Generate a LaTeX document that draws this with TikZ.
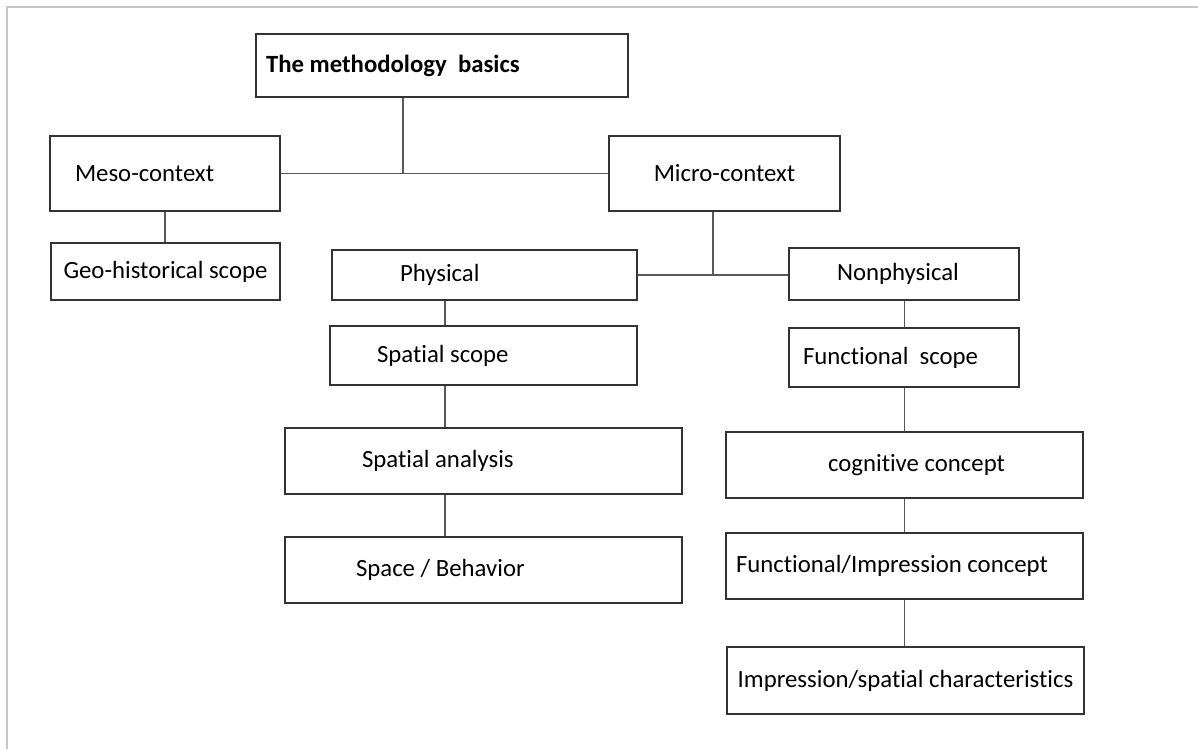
\documentclass[tikz,border=0pt]{standalone}
\usepackage{fontspec}
\setmainfont{Carlito}[Ligatures=NoCommon]
\usepackage{xcolor}
\usepackage{tikz}
\usetikzlibrary{calc}
\newcommand\boxfont{\fontsize{14.1pt}{16pt}\selectfont}

\begin{document}
\begin{tikzpicture}[font=\boxfont,
  box/.style={draw=black!80, line width=0.6pt, rectangle, inner ysep=0pt},
  link/.style={draw=black!65, line width=0.6pt}]
  \useasboundingbox (0,0) rectangle (23.96,-14.98);
  \draw[black!22, line width=1.2pt] (0.14,-14.98) -- (0.14,-0.14) -- (23.96,-0.14);
  \node[box, minimum width=7.44cm, minimum height=1.26cm, text width=7.04cm, inner xsep=0.2cm, align=flush left, font=\boxfont\bfseries] (basics) at (8.84,-1.31) {The methodology~ basics};
  \node[box, minimum width=4.60cm, minimum height=1.50cm, text width=3.60cm, inner xsep=0.5cm, align=flush left] (meso) at (3.30,-3.47) {Meso-context};
  \node[box, minimum width=4.62cm, minimum height=1.50cm, align=center] (micro) at (14.49,-3.47) {Micro-context};
  \node[box, minimum width=4.58cm, minimum height=1.14cm, align=center] (geo) at (3.31,-5.43) {Geo-historical scope};
  \node[box, minimum width=6.10cm, minimum height=1.00cm, text width=3.38cm, inner xsep=1.36cm, align=flush left] (phys) at (9.69,-5.50) {Physical};
  \node[box, minimum width=4.60cm, minimum height=1.04cm, text width=2.68cm, inner xsep=0.96cm, align=flush left] (nonphys) at (18.08,-5.48) {Nonphysical};
  \node[box, minimum width=6.14cm, minimum height=1.18cm, text width=4.26cm, inner xsep=0.94cm, align=flush left] (sscope) at (9.67,-7.11) {Spatial scope};
  \node[box, minimum width=7.94cm, minimum height=1.32cm, text width=4.86cm, inner xsep=1.54cm, align=flush left] (sanal) at (9.67,-9.22) {Spatial analysis};
  \node[box, minimum width=7.94cm, minimum height=1.32cm, text width=5.10cm, inner xsep=1.42cm, align=flush left] (spbeh) at (9.67,-11.40) {Space / Behavior};
  \node[box, minimum width=4.60cm, minimum height=1.18cm, text width=4.04cm, inner xsep=0.28cm, align=flush left] (fscope) at (18.08,-7.15) {Functional~ scope};
  \node[box, minimum width=7.14cm, minimum height=1.32cm, text width=4.02cm, inner xsep=1.56cm, align=flush right] (cog) at (18.09,-9.30) {cognitive concept};
  \node[box, minimum width=7.14cm, minimum height=1.32cm, text width=6.74cm, inner xsep=0.2cm, align=flush left] (fimp) at (18.09,-11.32) {Functional/Impression concept};
  \node[box, minimum width=7.14cm, minimum height=1.34cm, align=center] (imps) at (18.11,-13.61) {Impression/spatial characteristics};
  \coordinate (top) at (8.06,-3.47);
  \coordinate (mid) at (14.26,-5.50);
  \coordinate (lsp) at (8.90,0);
  \coordinate (rsp) at (18.09,0);
  \draw[link] (top |- basics.south) -- (top);
  \draw[link] (meso.east) -- (micro.west);
  \draw[link] (meso.south) -- (meso.south |- geo.north);
  \draw[link] (mid |- micro.south) -- (mid);
  \draw[link] (phys.east) -- (phys.east -| nonphys.west);
  \draw[link] (lsp |- phys.south) -- (lsp |- sscope.north);
  \draw[link] (lsp |- sscope.south) -- (lsp |- sanal.north);
  \draw[link] (lsp |- sanal.south) -- (lsp |- spbeh.north);
  \draw[link] (rsp |- nonphys.south) -- (rsp |- fscope.north);
  \draw[link] (rsp |- fscope.south) -- (rsp |- cog.north);
  \draw[link] (rsp |- cog.south) -- (rsp |- fimp.north);
  \draw[link] (rsp |- fimp.south) -- (rsp |- imps.north);
\end{tikzpicture}
\end{document}
